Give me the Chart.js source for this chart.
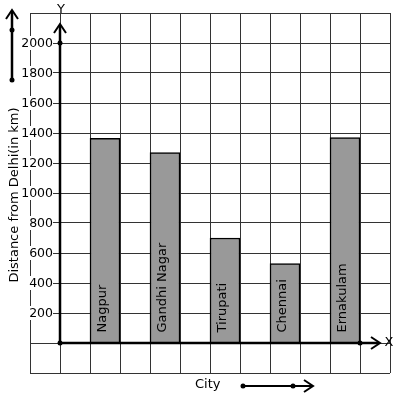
<!DOCTYPE html>
<html lang="en">
<head>
    <meta charset="UTF-8">
    <title>Distance from Delhi</title>
    <style>
        body {
            margin: 0;
            background: white;
        }
        #chart {
            display: block;
        }
    </style>
</head>
<body>
    <canvas id="chart" width="397" height="399"></canvas>

    <script src="https://cdn.jsdelivr.net/npm/chart.js"></script>
    <script>
        // data
        const cities = ['Nagpur', 'Gandhi Nagar', 'Tirupati', 'Chennai', 'Ernakulam'];
        const distances = [1365, 1270, 700, 530, 1370];
        const yTicks = [200, 400, 600, 800, 1000, 1200, 1400, 1600, 1800, 2000];

        // the grid has 12 columns, cities stand in every second one from the third
        const slots = 12;
        const slotLabels = Array(slots).fill('');
        const slotValues = Array(slots).fill(null);
        cities.forEach((c, i) => {
            slotLabels[2 + 2 * i] = c;
            slotValues[2 + 2 * i] = distances[i];
        });

        const font = '"DejaVu Sans", sans-serif';

        function dot(ctx, x, y) {
            ctx.beginPath();
            ctx.arc(x, y, 2.5, 0, Math.PI * 2);
            ctx.fill();
        }

        function chevron(ctx, x, y, dir) {
            ctx.beginPath();
            if (dir === 'up') {
                ctx.moveTo(x - 6, y + 9);
                ctx.lineTo(x, y);
                ctx.lineTo(x + 6, y + 9);
            } else {
                ctx.moveTo(x - 9, y - 6);
                ctx.lineTo(x, y);
                ctx.lineTo(x - 9, y + 6);
            }
            ctx.stroke();
        }

        const decor = {
            id: 'decor',
            afterDraw(chart) {
                const ctx = chart.ctx;
                const area = chart.chartArea;
                const xs = chart.scales.x;
                const ys = chart.scales.y;
                const cell = (area.right - area.left) / slots;
                const ox = area.left + cell;
                const oy = ys.getPixelForValue(0);

                ctx.save();
                ctx.fillStyle = '#000';
                ctx.strokeStyle = '#000';

                // y tick labels with white backing
                ctx.font = '12.5px ' + font;
                ctx.textAlign = 'right';
                ctx.textBaseline = 'middle';
                yTicks.forEach(v => {
                    const py = ys.getPixelForValue(v);
                    const w = ctx.measureText(String(v)).width;
                    ctx.fillStyle = '#fff';
                    ctx.fillRect(53 - w - 1, py - 7, w + 1, 14);
                    ctx.fillStyle = '#000';
                    ctx.fillText(String(v), 53, py + 0.5);
                });

                // axes
                ctx.lineWidth = 2.5;
                ctx.beginPath();
                ctx.moveTo(ox, oy);
                ctx.lineTo(ox, 25);
                ctx.moveTo(ox, oy);
                ctx.lineTo(379, oy);
                ctx.stroke();
                ctx.lineWidth = 2;
                chevron(ctx, ox, 24, 'up');
                chevron(ctx, 380, oy, 'right');
                dot(ctx, ox, oy);
                dot(ctx, ox, ys.getPixelForValue(2000));
                dot(ctx, area.right - cell, oy);

                ctx.font = '13px ' + font;
                ctx.textAlign = 'center';
                ctx.textBaseline = 'middle';
                ctx.fillText('Y', ox + 1, 10);
                ctx.fillText('X', 389, oy);

                // decorative arrow on the left
                ctx.lineWidth = 2.5;
                ctx.beginPath();
                ctx.moveTo(12, 80);
                ctx.lineTo(12, 12);
                ctx.stroke();
                ctx.lineWidth = 2;
                chevron(ctx, 12, 10, 'up');
                dot(ctx, 12, 30);
                dot(ctx, 12, 80);

                // bottom arrow and City label
                ctx.lineWidth = 2;
                ctx.beginPath();
                ctx.moveTo(243, 386);
                ctx.lineTo(312, 386);
                ctx.stroke();
                chevron(ctx, 313, 386, 'right');
                dot(ctx, 243, 386);
                dot(ctx, 293, 386);
                ctx.textAlign = 'left';
                ctx.fillText('City', 195, 385);

                // axis title
                ctx.save();
                ctx.translate(18, 195);
                ctx.rotate(-Math.PI / 2);
                ctx.textAlign = 'center';
                ctx.textBaseline = 'alphabetic';
                ctx.fillText('Distance from Delhi(in km)', 0, 0);
                ctx.restore();

                // city names inside the bars
                const meta = chart.getDatasetMeta(0);
                meta.data.forEach((bar, i) => {
                    if (slotValues[i] === null) return;
                    ctx.save();
                    ctx.translate(bar.x + 1, bar.base - 10);
                    ctx.rotate(-Math.PI / 2);
                    ctx.textAlign = 'left';
                    ctx.textBaseline = 'alphabetic';
                    ctx.fillStyle = '#000';
                    ctx.fillText(slotLabels[i], 0, 0);
                    ctx.restore();
                });

                ctx.restore();
            }
        };

        new Chart(document.getElementById('chart'), {
            type: 'bar',
            data: {
                labels: slotLabels,
                datasets: [{
                    data: slotValues,
                    backgroundColor: '#999999',
                    borderColor: '#000',
                    borderWidth: 1.5,
                    borderSkipped: 'bottom',
                    barPercentage: 1,
                    categoryPercentage: 1
                }]
            },
            options: {
                responsive: false,
                animation: false,
                devicePixelRatio: 1,
                layout: {
                    padding: { left: 30, right: 7, top: 13, bottom: 26 }
                },
                plugins: {
                    legend: { display: false },
                    tooltip: { enabled: false }
                },
                scales: {
                    x: {
                        ticks: { display: false },
                        grid: { color: '#333', lineWidth: 1, drawTicks: false, offset: true },
                        border: { display: false }
                    },
                    y: {
                        min: -200,
                        max: 2200,
                        ticks: { display: false, stepSize: 200 },
                        grid: { color: '#333', lineWidth: 1, drawTicks: false },
                        border: { display: false }
                    }
                }
            },
            plugins: [decor]
        });
    </script>
</body>
</html>
